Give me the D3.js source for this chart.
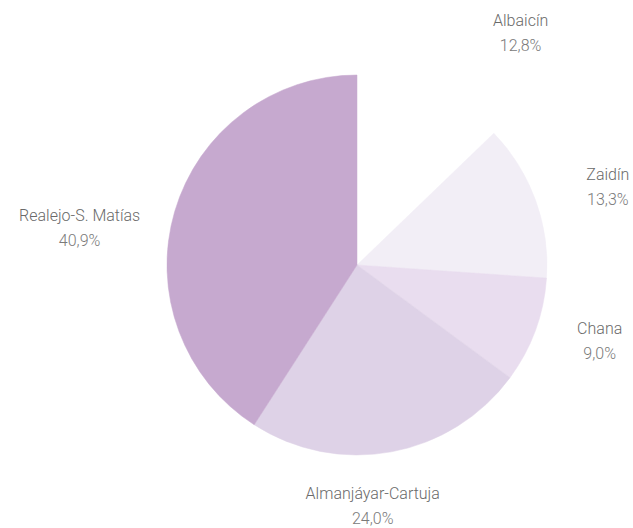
<!DOCTYPE html>
<html>
<head>
<meta charset="utf-8">
<script src="https://cdn.jsdelivr.net/npm/d3@7"></script>
<style>
  html, body { margin: 0; padding: 0; background: #ffffff; }
  svg { display: block; }
  text { font-family: Roboto, "Liberation Sans", sans-serif; font-weight: 300; }
</style>
</head>
<body>
<svg id="chart" width="633" height="528"></svg>
<script>
// Distribución por barrios (porcentajes)
const barrios = ["Albaicín", "Zaidín", "Chana", "Almanjáyar-Cartuja", "Realejo-S. Matías"];
const porcentajes = [12.8, 13.3, 9.0, 24.0, 40.9];
const colores = ["#ffffff", "#f2eef6", "#e9ddef", "#ded2e7", "#c6a9cf"];

// label placement: extra angle (degrees) from the slice centre and radius
const labelShift = [12, 2.5, -3, 6.7, -8.5];
const labelRadius = [285, 263, 254, 241, 280];

const width = 633, height = 528;
const cx = 357, cy = 265, radius = 190;

const svg = d3.select("#chart");
const g = svg.append("g").attr("transform", `translate(${cx},${cy})`);

const data = barrios.map((b, i) => ({ name: b, value: porcentajes[i], color: colores[i], i }));

const pie = d3.pie().sort(null).value(d => d.value).startAngle(0).endAngle(2 * Math.PI);
const arc = d3.arc().innerRadius(0).outerRadius(radius);

const arcs = pie(data);

g.selectAll("path.slice")
  .data(arcs)
  .join("path")
  .attr("class", "slice")
  .attr("d", arc)
  .attr("fill", d => d.data.color)
  .attr("stroke", d => d.data.color)
  .attr("stroke-width", 0.5);

const es = d3.formatLocale({ decimal: ",", thousands: ".", grouping: [3], currency: ["", " €"] });
const fmt = es.format(".1f");

const labels = g.selectAll("g.label")
  .data(arcs)
  .join("g")
  .attr("class", "label")
  .attr("transform", d => {
    const mid = (d.startAngle + d.endAngle) / 2 + labelShift[d.data.i] * Math.PI / 180;
    const r = labelRadius[d.data.i];
    return `translate(${Math.sin(mid) * r},${-Math.cos(mid) * r})`;
  });

// slightly condensed lettering
labels.append("text")
  .attr("text-anchor", "middle")
  .attr("transform", "translate(0,-6) scale(0.97,1)")
  .attr("font-size", 16.5)
  .attr("fill", "#6a6a6a")
  .text(d => d.data.name);

labels.append("text")
  .attr("text-anchor", "middle")
  .attr("transform", "translate(0,19) scale(0.97,1)")
  .attr("font-size", 16.5)
  .attr("fill", "#7a7a7a")
  .text(d => fmt(d.data.value) + "%");
</script>
</body>
</html>
